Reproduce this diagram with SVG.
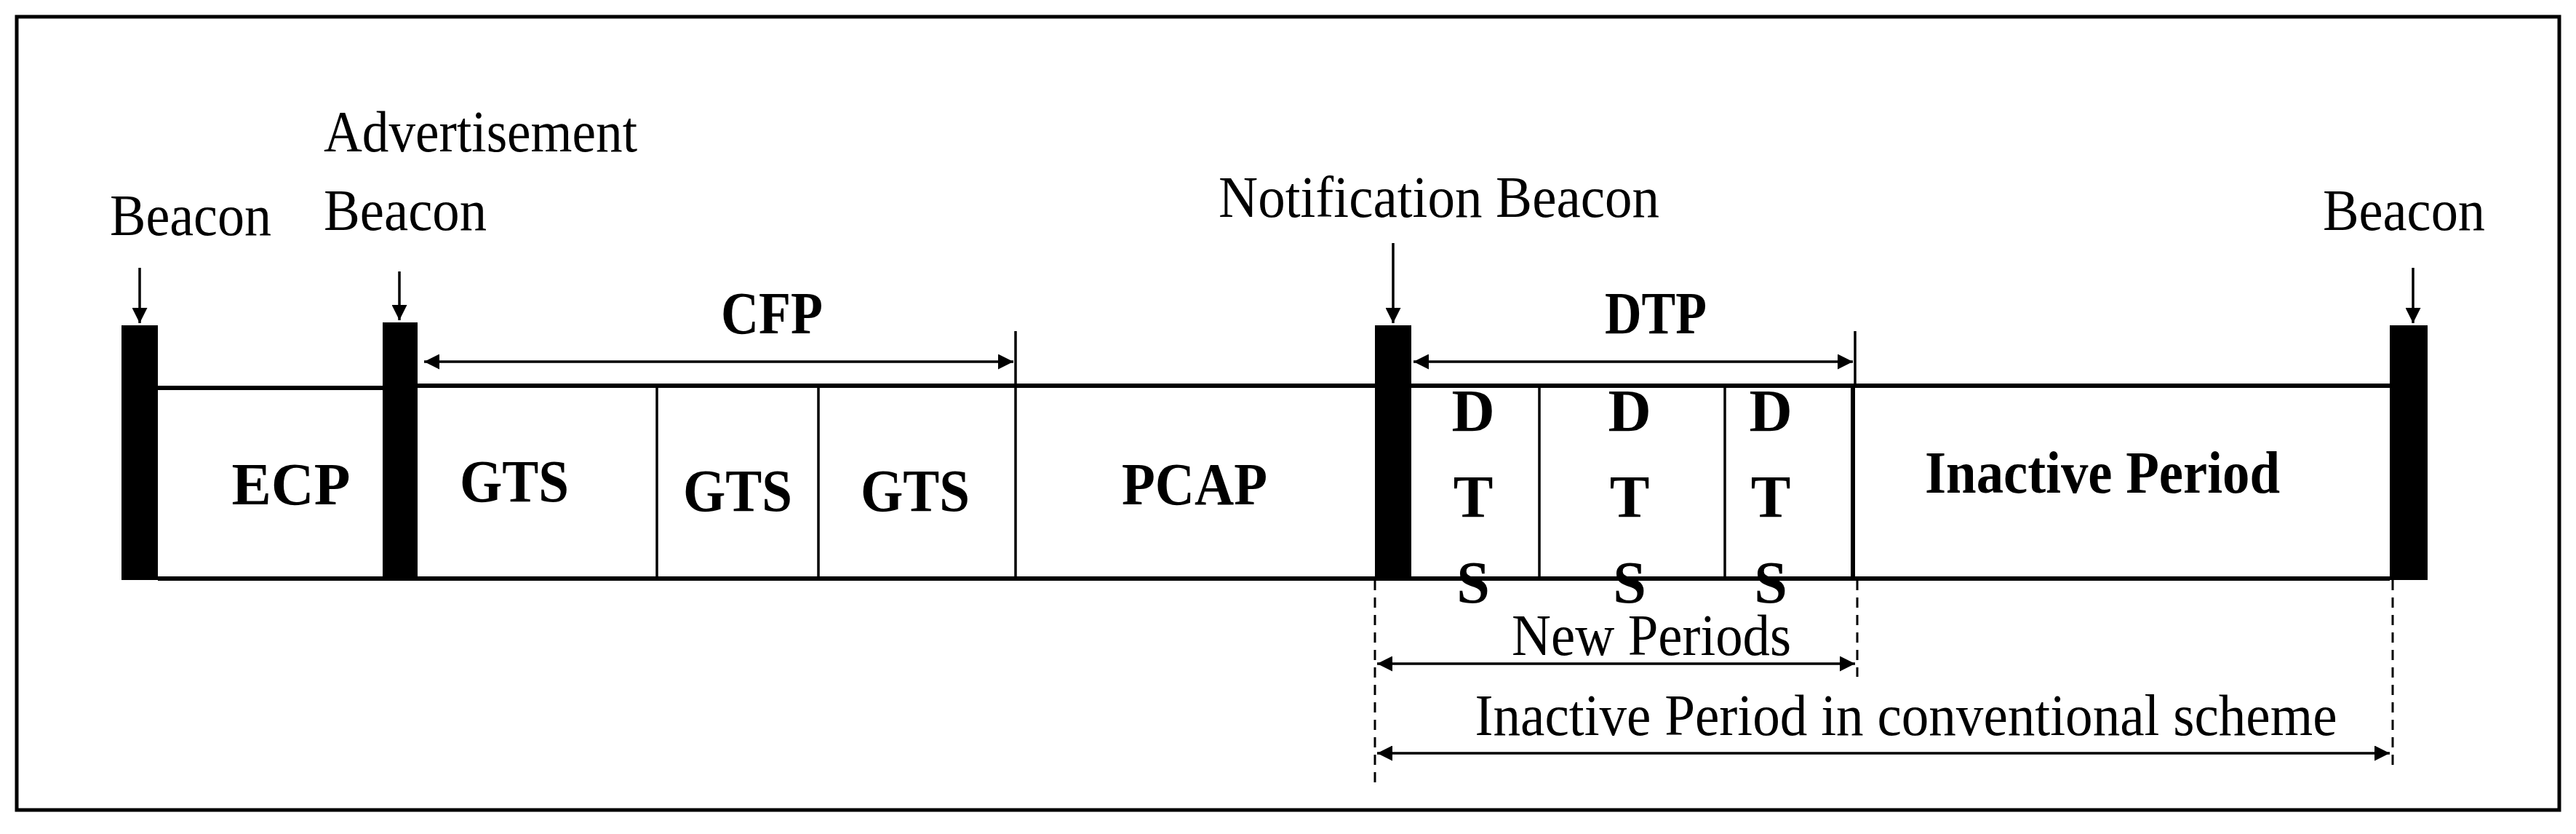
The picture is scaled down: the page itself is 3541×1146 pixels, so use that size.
<svg xmlns="http://www.w3.org/2000/svg" width="3541" height="1146" viewBox="0 0 3541 1146">
<style>
.t{font-family:"Liberation Serif",serif;font-size:80px;fill:#000}
.b{font-family:"Liberation Serif",serif;font-size:82px;font-weight:bold;fill:#000;text-anchor:middle}
.l{stroke:#000;stroke-width:6;fill:none}
.th{stroke:#000;stroke-width:3.5;fill:none}
.d{stroke:#000;stroke-width:3;stroke-dasharray:14 10;fill:none}
</style>
<defs>
<marker id="ah" viewBox="0 0 10 10" refX="10" refY="5" markerWidth="6" markerHeight="6" orient="auto-start-reverse"><path d="M0,0 L10,5 L0,10 z" fill="#000"/></marker>
</defs>
<rect width="3541" height="1146" fill="#fff"/>
<rect x="23" y="23" width="3495" height="1090" fill="none" stroke="#000" stroke-width="5"/>
<g id="frame">
<path class="l" d="M217,533 H526 M574,530 H1890 M1940,530 H3285 M217,795 H3285"/>
<path class="th" d="M903,533 V795 M1125,533 V795 M1396,530 V795 M2116,530 V795 M2371,530 V795"/>
<path class="l" d="M2547,530 V795"/>
</g>
<g id="beacon1"><rect x="167" y="447" width="50" height="350" fill="#000"/><text class="t" x="151" y="323" textLength="222" lengthAdjust="spacingAndGlyphs">Beacon</text></g>
<g id="adv"><rect x="526" y="443" width="48" height="354" fill="#000"/><text class="t" x="445" y="208" textLength="431" lengthAdjust="spacingAndGlyphs">Advertisement</text><text class="t" x="445" y="316" textLength="224" lengthAdjust="spacingAndGlyphs">Beacon</text></g>
<g id="notif"><rect x="1890" y="447" width="50" height="350" fill="#000"/><text class="t" x="1675" y="298" textLength="606" lengthAdjust="spacingAndGlyphs">Notification Beacon</text></g>
<g id="beacon2"><rect x="3285" y="447" width="52" height="350" fill="#000"/><text class="t" x="3193" y="316" textLength="223" lengthAdjust="spacingAndGlyphs">Beacon</text></g>
<g id="labels">
<text class="b" x="1061" y="458" textLength="140" lengthAdjust="spacingAndGlyphs">CFP</text>
<text class="b" x="2276" y="458" textLength="140" lengthAdjust="spacingAndGlyphs">DTP</text>
<text class="b" x="400" y="693" textLength="163" lengthAdjust="spacingAndGlyphs">ECP</text>
<text class="b" x="707" y="689" textLength="150" lengthAdjust="spacingAndGlyphs">GTS</text>
<text class="b" x="1014" y="702" textLength="150" lengthAdjust="spacingAndGlyphs">GTS</text>
<text class="b" x="1258" y="702" textLength="150" lengthAdjust="spacingAndGlyphs">GTS</text>
<text class="b" x="1642" y="693" textLength="200" lengthAdjust="spacingAndGlyphs">PCAP</text>
<text class="b" x="2890" y="677" textLength="488" lengthAdjust="spacingAndGlyphs">Inactive Period</text>
<text class="b" x="2025" y="592">D</text><text class="b" x="2025" y="710">T</text><text class="b" x="2025" y="828">S</text>
<text class="b" x="2240" y="592">D</text><text class="b" x="2240" y="710">T</text><text class="b" x="2240" y="828">S</text>
<text class="b" x="2434" y="592">D</text><text class="b" x="2434" y="710">T</text><text class="b" x="2434" y="828">S</text>
<text class="t" x="2270" y="900" text-anchor="middle" textLength="384" lengthAdjust="spacingAndGlyphs">New Periods</text>
<text class="t" x="2620" y="1010" text-anchor="middle" textLength="1185" lengthAdjust="spacingAndGlyphs">Inactive Period in conventional scheme</text>
</g>
<g id="connectors">
<path class="th" d="M192,368 V444" marker-end="url(#ah)"/>
<path class="th" d="M549,373 V440" marker-end="url(#ah)"/>
<path class="th" d="M1915,334 V444" marker-end="url(#ah)"/>
<path class="th" d="M3317,368 V444" marker-end="url(#ah)"/>
<path class="th" d="M583,497 H1393" marker-start="url(#ah)" marker-end="url(#ah)"/>
<path class="th" d="M1396,455 V533"/>
<path class="th" d="M1943,497 H2547" marker-start="url(#ah)" marker-end="url(#ah)"/>
<path class="th" d="M2550,455 V533"/>
<path class="th" d="M1893,912 H2550" marker-start="url(#ah)" marker-end="url(#ah)"/>
<path class="th" d="M1893,1035 H3285" marker-start="url(#ah)" marker-end="url(#ah)"/>
<path class="d" d="M1890,797 V1075 M2553,797 V930 M3289,797 V1060"/>
</g>
</svg>
